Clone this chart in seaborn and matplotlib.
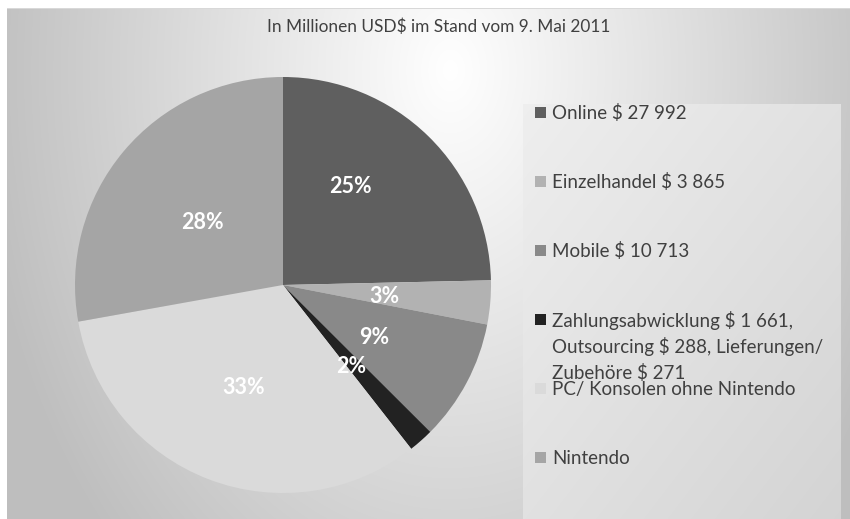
import numpy as np
import seaborn as sns
import matplotlib.pyplot as plt

# data (Mio USD, Stand 9. Mai 2011)
categories = [
    "Online $ 27 992",
    "Einzelhandel $ 3 865",
    "Mobile $ 10 713",
    "Zahlungsabwicklung $ 1 661,\nOutsourcing $ 288, Lieferungen/\nZubehöre $ 271",
    "PC/ Konsolen ohne Nintendo",
    "Nintendo",
]
values = [27992, 3865, 10713, 2220, 37200, 31600]
colors = ["#5f5f5f", "#b2b2b2", "#898989", "#222222", "#dadada", "#a5a5a5"]
title = "In Millionen USD$ im Stand vom 9. Mai 2011"

# where Excel put the percentage labels: radius and angle shift per slice
label_dist = [0.575, 0.49, 0.505, 0.51, 0.53, 0.49]
label_turn = [10, -1.4, -1.8, -1.6, 0, 2]

sns.set_theme(style="white")
plt.rcParams["font.family"] = ["Lato", "DejaVu Sans"]

W, H = 850, 519
fig = plt.figure(figsize=(W / 100, H / 100), dpi=100)
fig.patch.set_facecolor("white")

# background gradient of the chart area
bg = fig.add_axes([0, 0, 1, 1])
yy, xx = np.mgrid[0:H, 0:W]
r = np.sqrt(((xx - 450) / 450.0) ** 2 + ((yy - 70) / 640.0) ** 2)
shade = 1.0 - 0.24 * np.clip(r, 0, 1.05)
img = np.dstack([shade] * 3)
img[:8, :, :] = 1.0
img[8, :, :] = 0.85
img[:, :7, :] = 1.0
bg.imshow(img, extent=[0, W, H, 0], aspect="auto", interpolation="bilinear")

# legend panel
lx0, ly0 = 523, 104
lyy, lxx = np.mgrid[ly0:H, lx0:841]
t = ((lxx - lx0) / 318.0 + (lyy - ly0) / 415.0) / 2
panel = 0.935 - 0.105 * t
bg.imshow(np.dstack([panel] * 3), extent=[lx0, 841, H, ly0], aspect="auto")
bg.set_xlim(0, W)
bg.set_ylim(H, 0)
bg.axis("off")

fig.text(439 / W, 1 - 27 / H, title, ha="center", va="center",
         fontsize=12.4, color="#404040")

# pie
cx, cy, rad = 283, 285, 208
ax = fig.add_axes([(cx - rad) / W, (H - cy - rad) / H, 2 * rad / W, 2 * rad / H])
wedges, texts, autotexts = ax.pie(
    values, colors=colors, startangle=90, counterclock=False,
    autopct="%1.0f%%", pctdistance=0.6,
    wedgeprops=dict(linewidth=0, edgecolor="none"),
    textprops=dict(color="white", fontsize=15.5, fontweight="bold"),
)
for w, at, d, turn in zip(wedges, autotexts, label_dist, label_turn):
    mid = np.deg2rad((w.theta1 + w.theta2) / 2 + turn)
    at.set_position((d * np.cos(mid), d * np.sin(mid)))
ax.set_xlim(-1, 1)
ax.set_ylim(-1, 1)
ax.axis("off")

# legend entries
step = 69
line_h = 26.5
for i, (lab, col) in enumerate(zip(categories, colors)):
    y = 113 + i * step
    fig.patches.append(plt.Rectangle((535 / W, 1 - (y + 5) / H), 11 / W, 11 / H,
                                     transform=fig.transFigure, facecolor=col,
                                     edgecolor="none"))
    for k, line in enumerate(lab.split("\n")):
        fig.text(552 / W, 1 - (y + k * line_h) / H, line, ha="left",
                 va="center", fontsize=13.5, color="#404040")

fig.savefig("out.png", dpi=100)
